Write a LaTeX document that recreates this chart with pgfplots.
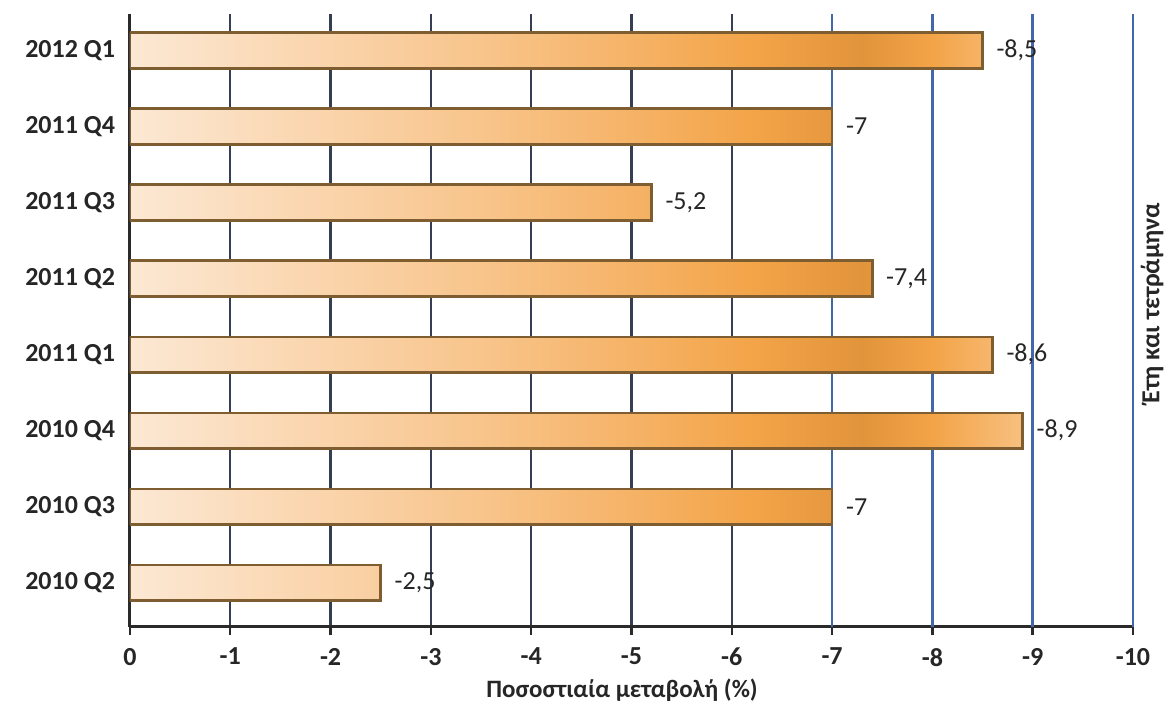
\documentclass[border=0pt]{standalone}
\usepackage{pgfplots}
\pgfplotsset{compat=1.18}
\usepackage{fontspec}
\setmainfont{Carlito}
\definecolor{gridc}{HTML}{4466AA}
\definecolor{gridd}{HTML}{363E55}
\definecolor{axc}{HTML}{2A2A2A}
\definecolor{barborder}{HTML}{7E5E30}
\definecolor{barA}{HTML}{FCE8D4}
\definecolor{barB}{HTML}{F8C48A}
\definecolor{barC}{HTML}{F3A448}
\definecolor{barD}{HTML}{E2943C}
\definecolor{barE}{HTML}{F7C080}
\pgfdeclarehorizontalshading{barshade}{100bp}{color(0bp)=(barA); color(25bp)=(barA); color(45bp)=(barB); color(60bp)=(barC); color(66bp)=(barD); color(70bp)=(barC); color(75bp)=(barE); color(100bp)=(barE)}
\pgfplotstableread{
y val
0 -2.5
1 -7
2 -8.9
3 -8.6
4 -7.4
5 -5.2
6 -7
7 -8.5
}\datatable
\begin{document}
\begin{tikzpicture}
\begin{axis}[
  scale only axis,
  width=501.5pt, height=306.5pt,
  x dir=reverse,
  xmin=-10, xmax=0,
  ymin=-0.58, ymax=7.48,
  xtick={0,-1,-2,-3,-4,-5,-6},
  xticklabels={0,-1,-2,-3,-4,-5,-6},
  extra x ticks={-7,-8,-9,-10},
  extra x tick labels={-7,-8,-9,-10},
  extra x tick style={grid style={draw=gridc, line width=1.2pt}},
  ytick={0,1,2,3,4,5,6,7},
  yticklabels={2010 Q2,2010 Q3,2010 Q4,2011 Q1,2011 Q2,2011 Q3,2011 Q4,2012 Q1},
  ticklabel style={font=\fontsize{13}{15}\selectfont\bfseries, text=black!85},
  xticklabel style={yshift=-3pt},
  axis x line*=bottom, axis y line*=left,
  axis line style={draw=axc, line width=1.5pt, -},
  xmajorgrids=true,
  grid style={draw=gridd, line width=1.2pt},
  x tick style={draw=axc, line width=1.2pt},
  tick align=outside, major tick length=4pt,
  y tick style={draw=none},
  /pgf/number format/.cd, use comma, assume math mode=true,
]
\addplot[xbar, bar width=0.47, draw=barborder, line width=1.3pt, shading=barshade, shading angle=0,
  nodes near coords, point meta=x,
  every node near coord/.append style={anchor=west, xshift=3pt, font=\fontsize{13}{15}\selectfont, text=black!85}]
  table[x=val, y=y] {\datatable};
\end{axis}
\node[font=\fontsize{12.5}{15}\selectfont\bfseries, text=black!85] at (246pt,-31.5pt) {Ποσοστιαία μεταβολή (\%)};
\node[rotate=90, font=\fontsize{13}{15}\selectfont\bfseries, text=black!85] at (511pt,162pt) {Έτη και τετράμηνα};
\pgfresetboundingbox
\path (-65pt,-44pt) rectangle (521pt,313.5pt);
\end{tikzpicture}
\end{document}
